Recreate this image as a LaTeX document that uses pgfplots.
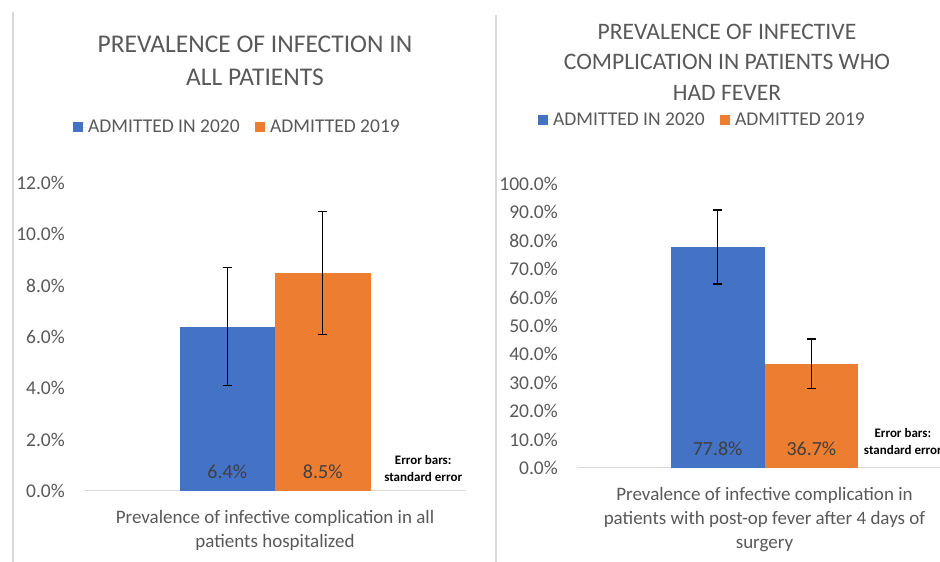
\documentclass[border=0pt]{standalone}
\usepackage{fontspec}
\setmainfont{Carlito}
\usepackage{pgfplots}
\usepackage{pgfplotstable}
\pgfplotsset{compat=1.18}
\definecolor{xblue}{HTML}{4472C4}
\definecolor{xorange}{HTML}{ED7D31}
\definecolor{txtgray}{HTML}{595959}
\definecolor{lblgray}{HTML}{404040}
\definecolor{gridgray}{HTML}{D9D9D9}

% left panel: all patients
\pgfplotstableread{
x y e
-0.25 6.4 2.3
}\leftA
\pgfplotstableread{
x y e
0.25 8.5 2.4
}\leftB
% right panel: patients who had fever
\pgfplotstableread{
x y e
-0.25 77.8 13.0
}\rightA
\pgfplotstableread{
x y e
0.25 36.7 8.7
}\rightB

\pgfplotsset{
 panel/.style={
  scale only axis, clip=false,
  xmin=-1, xmax=1, ymin=0,
  axis x line*=bottom, axis y line*=left,
  x axis line style={-, draw=gridgray, line width=1pt},
  y axis line style={-, draw=none},
  tick style={draw=none},
  xtick={0},
  /pgf/number format/assume math mode=true,
  yticklabel={\pgfmathprintnumber[fixed,fixed zerofill,precision=1]{\tick}\%},
  yticklabel style={inner sep=0pt, xshift=-19pt, text=txtgray, font=\fontsize{19.5}{23}\selectfont},
  xticklabel style={inner sep=0pt, yshift=-19pt, align=center, text=txtgray, font=\fontsize{19}{24}\selectfont},
  legend columns=2,
  legend style={draw=none, fill=none, inner sep=0pt, anchor=west,
    font=\fontsize{19.5}{23}\selectfont, text=txtgray,
    /tikz/every even column/.append style={column sep=13.5pt}},
  title style={anchor=center, align=center, text=txtgray},
 },
 bars/.style={ybar, bar width=0.5, bar shift=0pt, fill=#1, draw=none,
  legend image code/.code={\path (0pt,0pt) -- (13pt,0pt);\fill[##1] (0pt,-5pt) rectangle (10pt,5pt);},
  error bars/.cd, y dir=both, y explicit,
  error bar style={black, line width=1.35pt},
  error mark options={rotate=90, black, mark size=4.5pt, line width=1.35pt}},
 vals/.style={forget plot, only marks, mark=none, point meta=rawy,
  y filter/.expression={0},
  nodes near coords={\pgfmathprintnumber[fixed,fixed zerofill,precision=1]{\pgfplotspointmeta}\%},
  every node near coord/.append style={anchor=center, yshift=19pt, text=lblgray,
   font=\fontsize{20}{24}\selectfont, /pgf/number format/assume math mode=true}},
}

\begin{document}
\begin{tikzpicture}
\path[use as bounding box, clip] (0pt,0pt) rectangle (940pt,562pt);
\fill[white] (0pt,0pt) rectangle (940pt,562pt);
\draw[gridgray, line width=1.2pt] (13pt,0pt) -- (13pt,550pt);
\draw[gridgray, line width=1.2pt] (496pt,0pt) -- (496pt,547pt);

\begin{axis}[panel,
  at={(84pt,71pt)}, anchor=south west, width=382pt, height=308pt,
  ymax=12, ytick={0,2,...,12},
  xticklabels={{Prevalence of infective complication in all\\patients hospitalized}},
  title={PREVALENCE OF INFECTION IN\\ALL PATIENTS},
  title style={at={(0.4476,1.376)}, font=\fontsize{25.5}{33}\selectfont},
  legend style={at={(-0.0288,1.1818)}},
]
\addplot[bars=xblue] table[x=x, y=y, y error=e] {\leftA};
\addlegendentry{ADMITTED IN 2020}
\addplot[bars=xorange] table[x=x, y=y, y error=e] {\leftB};
\addlegendentry{ADMITTED 2019}
\addplot[vals] table[x=x, y=y] {\leftA};
\addplot[vals] table[x=x, y=y] {\leftB};
\node[font=\bfseries\fontsize{13}{17}\selectfont, align=center, text=black] at (rel axis cs:0.888,0.073) {Error bars:\\standard error};
\end{axis}

\begin{axis}[panel,
  at={(577pt,94pt)}, anchor=south west, width=375pt, height=284pt,
  ymax=100, ytick={0,10,...,100},
  xticklabels={{Prevalence of infective complication in\\patients with post-op fever after 4 days of\\surgery}},
  title={PREVALENCE OF INFECTIVE\\COMPLICATION IN PATIENTS WHO\\HAD FEVER},
  title style={at={(0.4,1.4085)}, font=\fontsize{23.6}{30.5}\selectfont},
  legend style={at={(-0.104,1.2254)}},
]
\addplot[bars=xblue] table[x=x, y=y, y error=e] {\rightA};
\addlegendentry{ADMITTED IN 2020}
\addplot[bars=xorange] table[x=x, y=y, y error=e] {\rightB};
\addlegendentry{ADMITTED 2019}
\addplot[vals] table[x=x, y=y] {\rightA};
\addplot[vals] table[x=x, y=y] {\rightB};
\node[font=\bfseries\fontsize{13}{17}\selectfont, align=center, text=black] at (rel axis cs:0.869,0.095) {Error bars:\\standard error};
\end{axis}
\end{tikzpicture}
\end{document}
